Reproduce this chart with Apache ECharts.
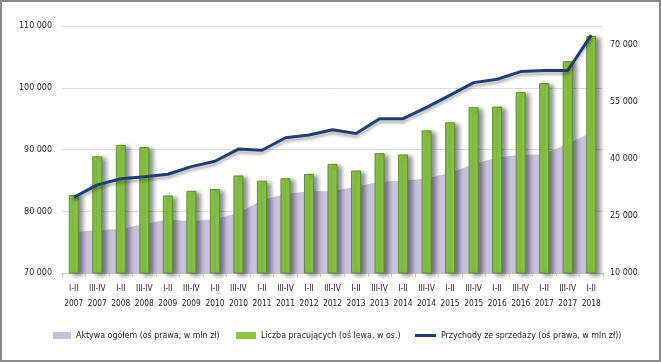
<!DOCTYPE html>
<html><head><meta charset="utf-8">
<script src="https://cdn.jsdelivr.net/npm/echarts@6/dist/echarts.min.js"></script>
<style>html,body{margin:0;padding:0;background:#fff}#c{width:661px;height:362px}</style>
</head><body><div id="c"></div>
<script>
const periods = ['I-II','III-IV','I-II','III-IV','I-II','III-IV','I-II','III-IV','I-II','III-IV','I-II','III-IV','I-II','III-IV','I-II','III-IV','I-II','III-IV','I-II','III-IV','I-II','III-IV','I-II'];
const years = ['2007','2007','2008','2008','2009','2009','2010','2010','2011','2011','2012','2012','2013','2013','2014','2014','2015','2015','2016','2016','2017','2017','2018'];
const liczbaPracujacych = [82650, 88900, 90750, 90400, 82550, 83300, 83600, 85800, 84950, 85350, 86050, 87650, 86600, 89400, 89200, 93100, 94400, 96850, 96950, 99300, 100750, 104300, 108400];
const przychody = [29900, 33200, 34800, 35300, 36000, 38000, 39400, 42600, 42300, 45600, 46300, 47700, 46700, 50600, 50600, 53600, 56800, 60100, 61000, 63000, 63300, 63300, 72600];
const aktywa = [20700, 21300, 21600, 22900, 24100, 23600, 24200, 25800, 29200, 30800, 31500, 31600, 32700, 34000, 34300, 34900, 36400, 38600, 40400, 41100, 41200, 44100, 46900];
const leftTicks = {min: 70000, max: 110000, interval: 10000};
const rightTicks = {min: 10000, max: 75000, interval: 15000};
const names = ['Aktywa ogółem (oś prawa, w mln zł)', 'Liczba pracujących (oś lewa, w os.)', 'Przychody ze sprzedaży (oś prawa, w mln zł))'];

// pick an available narrow font
const ctx = document.createElement('canvas').getContext('2d');
function has(f) {
  ctx.font = "20px monospace"; const a = ctx.measureText('abcdefghijklmnopqrstuvwxyz0123').width;
  ctx.font = "20px '" + f + "', monospace"; const b = ctx.measureText('abcdefghijklmnopqrstuvwxyz0123').width;
  return a !== b;
}
const cands = ['Liberation Sans Narrow', 'DejaVu Sans Condensed', 'Roboto Condensed', 'Noto Sans', 'Liberation Sans'];
let FONT_NAME = 'sans-serif';
for (const f of cands) { if (has(f)) { FONT_NAME = f; break; } }
const FONT = "'" + FONT_NAME + "', sans-serif";
function sizeFor(text, target) {
  ctx.font = "20px " + FONT; const w = ctx.measureText(text).width;
  return Math.min(12, Math.round(20 * target / w * 10) / 10);
}
const legendSize = sizeFor(names[0], 143);
const ySize = sizeFor('110 000', 33);
const xSize = sizeFor('2007', 19);

const fmt = v => String(v).replace(/\B(?=(\d{3})+(?!\d))/g, ' ');
const cats = periods.map((p, i) => p + '\n' + years[i]);

const chart = echarts.init(document.getElementById('c'), null, {renderer: 'canvas'});
const legendText = {fontFamily: FONT, fontSize: legendSize, color: '#222'};
const plainIcon = {borderWidth: 0, shadowBlur: 0, shadowOffsetX: 0, shadowOffsetY: 0};
chart.setOption({
  animation: false,
  textStyle: {fontFamily: FONT},
  graphic: [{type: 'rect', shape: {x: 1, y: 1, width: 659, height: 360}, style: {fill: 'none', stroke: '#8a8a8a', lineWidth: 2}, z: 100}],
  grid: {left: 62, right: 58, top: 26, bottom: 89},
  legend: [
    {left: 48, top: 326, itemWidth: 18, itemHeight: 7, itemGap: 0, itemStyle: plainIcon, textStyle: legendText, data: [{name: names[0], icon: 'rect'}]},
    {left: 231, top: 326, itemWidth: 20, itemHeight: 7, itemGap: 0, itemStyle: plainIcon, textStyle: legendText, data: [{name: names[1], icon: 'rect'}]},
    {left: 410, top: 326, itemWidth: 21, itemHeight: 3, itemGap: 0, itemStyle: plainIcon, textStyle: legendText, data: [{name: names[2], icon: 'rect'}]}
  ],
  xAxis: {
    type: 'category', data: cats, boundaryGap: true,
    axisLine: {lineStyle: {color: '#c8c8c8'}},
    axisTick: {show: true, interval: 0, length: 4, lineStyle: {color: '#c8c8c8'}},
    axisLabel: {interval: 0, fontFamily: FONT, fontSize: xSize, color: '#222', lineHeight: 15, margin: 8}
  },
  yAxis: [
    {type: 'value', min: leftTicks.min, max: leftTicks.max, interval: leftTicks.interval,
     axisLine: {show: false}, axisTick: {show: false},
     splitLine: {lineStyle: {color: '#dcdcdc'}},
     axisLabel: {formatter: fmt, fontFamily: FONT, fontSize: ySize, color: '#222', margin: 10}},
    {type: 'value', min: rightTicks.min, max: rightTicks.max, interval: rightTicks.interval,
     axisLine: {show: false}, axisTick: {show: false}, splitLine: {show: false},
     axisLabel: {formatter: fmt, fontFamily: FONT, fontSize: ySize, color: '#222', margin: 7, showMaxLabel: false}}
  ],
  series: [
    {name: names[0], type: 'line', yAxisIndex: 1, data: aktywa, symbol: 'none', z: 1,
     itemStyle: {color: '#c6bedb'},
     lineStyle: {width: 0},
     areaStyle: {color: '#c9c1dd', opacity: 1}},
    {name: names[1], type: 'bar', yAxisIndex: 0, data: liczbaPracujacych, barWidth: 10, z: 2,
     itemStyle: {color: '#8cc941', borderColor: '#5f8f2c', borderWidth: 1,
                 shadowColor: 'rgba(30,30,50,0.5)', shadowBlur: 4, shadowOffsetX: 4, shadowOffsetY: 2}},
    {name: names[2], type: 'line', yAxisIndex: 1, data: przychody, symbol: 'none', z: 3,
     itemStyle: {color: '#1f3f73'},
     lineStyle: {color: '#1f3f73', width: 3, shadowColor: 'rgba(0,0,0,0.3)', shadowBlur: 3, shadowOffsetY: 3}}
  ]
});
</script></body></html>
